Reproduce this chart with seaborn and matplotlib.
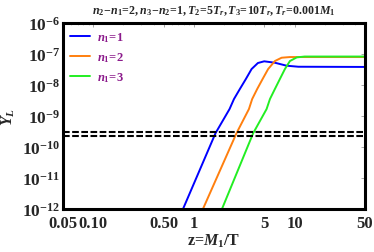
import numpy as np
import pandas as pd
import matplotlib
matplotlib.use("Agg")
import matplotlib.pyplot as plt
import seaborn as sns
from matplotlib.ticker import FixedLocator, FixedFormatter, LogLocator, NullFormatter

sns.set_style("white")
plt.rcParams["font.family"] = ["Liberation Serif", "DejaVu Serif"]
plt.rcParams["font.weight"] = "bold"
plt.rcParams["mathtext.fontset"] = "custom"
plt.rcParams["mathtext.rm"] = "Liberation Serif:bold"
plt.rcParams["mathtext.it"] = "Liberation Serif:bold:italic"
plt.rcParams["mathtext.bf"] = "Liberation Serif:bold"

# ---- data ----
z_n1 = [0.78, 1.64, 2.26, 2.50, 2.86, 3.28, 3.74, 4.32, 4.99, 6.37, 8.32, 10.9, 50]
Y_n1 = [1e-12, 2.8e-10, 1.68e-9, 3.53e-9, 7.43e-9, 1.56e-8, 3.28e-8, 5.13e-8,
        5.82e-8, 5.24e-8, 4.2e-8, 3.89e-8, 3.83e-8]

z_n2 = [1.23, 2.65, 3.52, 3.79, 4.25, 4.81, 5.46, 6.37, 7.43, 8.98, 50]
Y_n2 = [1e-12, 2.8e-10, 1.68e-9, 3.53e-9, 7.43e-9, 1.56e-8, 3.28e-8, 5.94e-8,
        7.6e-8, 7.99e-8, 7.99e-8]

z_n3 = [1.9, 3.88, 5.27, 5.69, 6.37, 7.14, 8.01, 8.98, 10.5, 12.6, 50]
Y_n3 = [1e-12, 2.8e-10, 1.68e-9, 3.53e-9, 7.43e-9, 1.56e-8, 3.28e-8, 5.94e-8,
        7.8e-8, 8.3e-8, 8.3e-8]

obs_levels = [3.0e-10, 2.35e-10]
x_range = [0.05, 50]

series_labels = [r"$n_\mathit{1}\!=\!\mathit{1}$", r"$n_\mathit{1}\!=\!\mathit{2}$",
                 r"$n_\mathit{1}\!=\!\mathit{3}$"]
colors = ["#0000ff", "#ff7f0e", "#22ee22"]

x_ticks = [0.05, 0.1, 0.5, 1, 5, 10, 50]
x_ticklabels = ["0.05", "0.10", "0.50", "1", "5", "10", "50"]
y_ticks = [1e-12, 1e-11, 1e-10, 1e-9, 1e-8, 1e-7, 1e-6]
y_ticklabels = [r"$10^{-12}$", r"$10^{-11}$", r"$10^{-10}$", r"$10^{-9}$",
                r"$10^{-8}$", r"$10^{-7}$", r"$10^{-6}$"]

title = r"$n_2\!-\!n_1\!=\!2,n_3\!-\!n_2\!=\!1,T_2\!=\!5T_r,T_3\!=\!10T_r,T_r\!=\!0.001M_1$"

frames = []
for lab, zs, ys in zip(series_labels, [z_n1, z_n2, z_n3], [Y_n1, Y_n2, Y_n3]):
    frames.append(pd.DataFrame({"z": zs, "Y": ys, "series": lab}))
df = pd.concat(frames, ignore_index=True)

fig = plt.figure(figsize=(3.74, 2.53), dpi=100)
ax = fig.add_axes([0.168, 0.170, 0.808, 0.735])

sns.lineplot(data=df, x="z", y="Y", hue="series", palette=colors,
             estimator=None, sort=False, linewidth=1.4, ax=ax)

for lv in obs_levels:
    ax.plot(x_range, [lv, lv], color="black", linestyle=(0, (3.2, 1.2)),
            linewidth=1.5)

ax.set_xscale("log")
ax.set_yscale("log")
ax.set_xlim(x_range)
ax.set_ylim(1e-12, 1e-6)

ax.xaxis.set_major_locator(FixedLocator(x_ticks))
ax.xaxis.set_major_formatter(FixedFormatter(x_ticklabels))
ax.xaxis.set_minor_locator(LogLocator(base=10, subs=np.arange(2, 10)))
ax.xaxis.set_minor_formatter(NullFormatter())
ax.yaxis.set_major_locator(FixedLocator(y_ticks))
ax.yaxis.set_major_formatter(FixedFormatter(y_ticklabels))
ax.yaxis.set_minor_locator(LogLocator(base=10, subs=np.arange(2, 10)))
ax.yaxis.set_minor_formatter(NullFormatter())

ax.tick_params(axis="both", which="major", direction="in", length=3,
               color="#999999", width=0.6, pad=2)
ax.tick_params(axis="x", which="major", labelsize=12, pad=4)
ax.tick_params(axis="y", which="major", labelsize=12.5)
ax.tick_params(axis="both", which="minor", direction="in", length=1.5,
               color="#bbbbbb", width=0.5)
ax.tick_params(top=True, right=True, which="both")
ax.tick_params(axis="x", labeltop=False)
ax.tick_params(axis="y", labelright=False)

for sp in ax.spines.values():
    sp.set_visible(True)
    sp.set_color("black")
    sp.set_linewidth(2.2)

ax.set_xlabel(r"z=$M_1$/T", fontsize=11.5, fontweight="bold", labelpad=1)
ax.set_ylabel(r"$Y_L$", fontsize=11.5)
ax.yaxis.set_label_coords(-0.152, 0.5)
ax.set_title(title, fontsize=8.6, pad=7)

leg = ax.legend(loc="upper left", frameon=False, fontsize=9,
                handlelength=1.6, labelspacing=0.5, borderaxespad=0.15,
                handletextpad=0.6)
for t in leg.get_texts():
    t.set_color("#8b1a8b")

fig.savefig("out.png", dpi=100)
